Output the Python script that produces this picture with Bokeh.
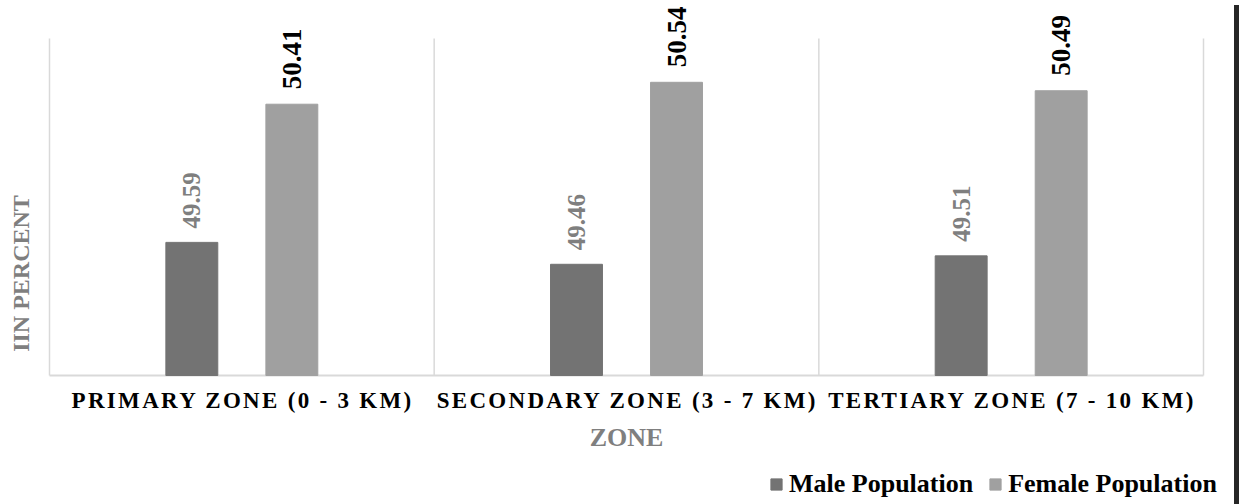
import numpy as np
from bokeh.plotting import figure
from bokeh.models import (Range1d, FixedTicker, Legend, LegendItem, Label, Div,
                          InlineStyleSheet)
from bokeh.layouts import row, column
from bokeh.core.properties import value
from bokeh.embed import file_html
from bokeh.resources import INLINE

# ---- data ----
zones = ["PRIMARY ZONE (0 - 3 KM)", "SECONDARY ZONE (3 - 7 KM)", "TERTIARY ZONE (7 - 10 KM)"]
male = [49.59, 49.46, 49.51]
female = [50.41, 50.54, 50.49]
series = ["Male Population", "Female Population"]
y_title = "IIN PERCENT"
x_title = "ZONE"
y_min, y_max = 48.8, 50.8

# ---- style / layout ----
FONT = "Liberation Serif"
MALE_C = "#737373"
FEMALE_C = "#a0a0a0"
GRID_C = "#d9d9d9"
GRAY_TXT = "#7f7f7f"
LETTER_SP = 2.3                      # px, letter spacing of the category labels

FIG_W = 1229
MAIN_H, AXIS_H, LEG_H = 378, 42, 84
PLOT_TOP, PLOT_BOTTOM = 38, 375      # pixel rows of the value axis max / min
GRID_LEFT, GRID_RIGHT = 49, 1203     # pixel columns of the category area
YT_X, YT_Y = 20, 273                 # centre of the value-axis title (px)
XT_Y = 16.5                          # centre of "ZONE" below the strip top (px)

n = len(zones)
ppu_x = (GRID_RIGHT - GRID_LEFT) / n
ppu_y = (PLOT_BOTTOM - PLOT_TOP) / (y_max - y_min)
x_range = Range1d(-GRID_LEFT / ppu_x, n + (FIG_W - GRID_RIGHT) / ppu_x)
y_range = Range1d(y_min - (MAIN_H - PLOT_BOTTOM) / ppu_y, y_min + PLOT_BOTTOM / ppu_y)

xc = np.arange(n) + 0.5
off = 0.13
bw = 0.135


def bare(fig):
    fig.outline_line_color = None
    fig.background_fill_color = "white"
    fig.border_fill_color = "white"
    fig.grid.visible = False


# ---- main chart ----
p = figure(width=FIG_W, height=MAIN_H, output_backend="svg", toolbar_location=None,
           x_range=x_range, y_range=y_range,
           min_border_left=0, min_border_right=0, min_border_top=0, min_border_bottom=0)
bare(p)
p.axis.visible = False

bounds = np.arange(n + 1)
p.segment(x0=bounds, y0=y_min, x1=bounds, y1=y_max, line_color=GRID_C, line_width=1.5)
p.segment(x0=[0], y0=[y_min], x1=[n], y1=[y_min], line_color=GRID_C, line_width=2)

r_m = p.vbar(x=xc - off, top=male, bottom=y_min, width=bw,
             fill_color=MALE_C, line_color=MALE_C)
r_f = p.vbar(x=xc + off, top=female, bottom=y_min, width=bw,
             fill_color=FEMALE_C, line_color=FEMALE_C)

p.text(x=xc - off, y=male, text=[f"{v:.2f}" for v in male], angle=np.pi / 2,
       text_align="left", text_baseline="middle", y_offset=-14,
       text_font=value(FONT), text_font_style="bold", text_font_size="25px",
       text_color=GRAY_TXT)
p.text(x=xc + off, y=female, text=[f"{v:.2f}" for v in female], angle=np.pi / 2,
       text_align="left", text_baseline="middle", y_offset=-15,
       text_font=value(FONT), text_font_style="bold", text_font_size="27px",
       text_color="black")

p.add_layout(Label(x=(YT_X - GRID_LEFT) / ppu_x, y=y_min + (PLOT_BOTTOM - YT_Y) / ppu_y,
                   text=y_title, angle=np.pi / 2,
                   text_align="center", text_baseline="middle",
                   text_font=FONT, text_font_style="bold", text_font_size="24px",
                   text_color=GRAY_TXT))

# ---- category axis strip (letter-spaced labels) ----
# labels are laid out left-anchored, so the extra letter spacing is re-centred
tick_pos = [round(float(x) - LETTER_SP * (len(z) - 1) / 2 / ppu_x, 5)
            for x, z in zip(xc, zones)]
pa = figure(width=FIG_W, height=AXIS_H, output_backend="svg", toolbar_location=None,
            x_range=x_range, y_range=Range1d(0, 1),
            min_border_left=0, min_border_right=0, min_border_top=0,
            min_border_bottom=AXIS_H - 1)
bare(pa)
pa.yaxis.visible = False
pa.stylesheets = [InlineStyleSheet(css=f":host {{ letter-spacing: {LETTER_SP}px; }}")]
ax = pa.xaxis[0]
ax.bounds = (0, n)
ax.ticker = FixedTicker(ticks=tick_pos)
ax.major_label_overrides = {t: z for t, z in zip(tick_pos, zones)}
ax.axis_line_color = None
ax.major_tick_line_color = None
ax.minor_tick_line_color = None
ax.major_label_text_font = FONT
ax.major_label_text_font_size = "23px"
ax.major_label_text_font_style = "bold"
ax.major_label_text_color = "black"
ax.major_label_standoff = 2

# ---- axis title + legend strip ----
lf = figure(width=FIG_W, height=LEG_H, output_backend="svg", toolbar_location=None,
            x_range=x_range, y_range=Range1d(0, LEG_H),
            min_border_left=0, min_border_right=0, min_border_top=0, min_border_bottom=0)
bare(lf)
lf.axis.visible = False
lf.add_layout(Label(x=n / 2, y=LEG_H - XT_Y, text=x_title,
                    text_align="center", text_baseline="middle",
                    text_font=FONT, text_font_style="bold", text_font_size="26px",
                    text_color=GRAY_TXT))
# hidden proxies that supply the legend swatches
lm = lf.vbar(x=xc - off, top=male, bottom=y_min, width=bw,
             fill_color=MALE_C, line_color=MALE_C, visible=False)
lfe = lf.vbar(x=xc + off, top=female, bottom=y_min, width=bw,
              fill_color=FEMALE_C, line_color=FEMALE_C, visible=False)
legend = Legend(items=[LegendItem(label=series[0], renderers=[lm]),
                       LegendItem(label=series[1], renderers=[lfe])],
                orientation="horizontal", location=(769, 5),
                glyph_width=14, glyph_height=14, label_standoff=6, spacing=15,
                padding=0, margin=0, border_line_color=None,
                background_fill_alpha=0, inactive_fill_alpha=0,
                label_text_font=FONT, label_text_font_size="26px",
                label_text_font_style="bold", label_text_color="black")
lf.add_layout(legend)

bar = Div(width=5, height=MAIN_H + AXIS_H + LEG_H, styles={"background-color": "#262626"})
layout = row(column(p, pa, lf, spacing=0), bar, spacing=0)

open("out.html", "w").write(file_html(layout, INLINE))
